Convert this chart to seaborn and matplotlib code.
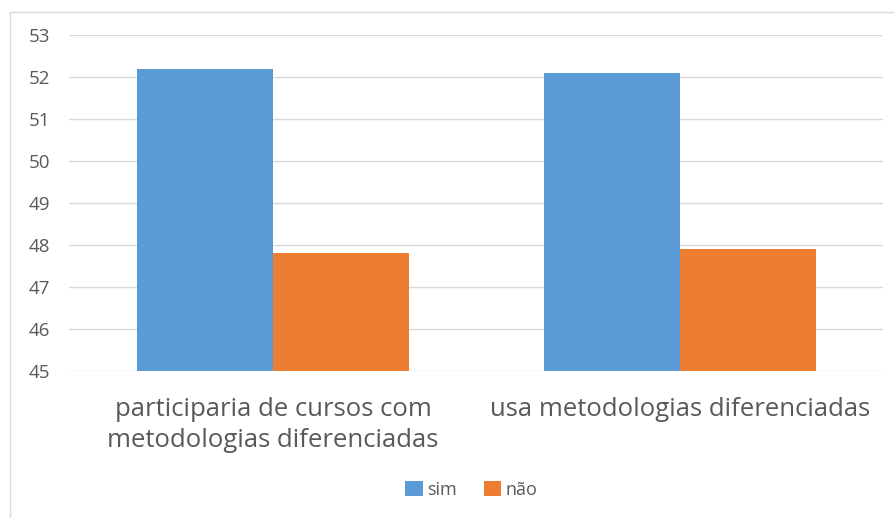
import pandas as pd
import seaborn as sns
from matplotlib import pyplot as plt
from matplotlib.lines import Line2D

# Chart values
categories = ['participaria de cursos com\nmetodologias diferenciadas', 'usa metodologias diferenciadas']
series_names = ['sim', 'não']
sim_values = [52.2, 52.1]
nao_values = [47.8, 47.9]
y_ticks = [45, 46, 47, 48, 49, 50, 51, 52, 53]

df = pd.DataFrame({
    'categoria': categories * 2,
    'resposta': [series_names[0]] * 2 + [series_names[1]] * 2,
    'valor': sim_values + nao_values,
})

sns.set_style('white')
plt.rcParams['font.family'] = ['Open Sans', 'DejaVu Sans']

fig = plt.figure(figsize=(8.95, 5.18), dpi=100)
ax = fig.add_axes([69.5 / 895, 1 - 371 / 518, 814 / 895, 336 / 518])

sns.barplot(data=df, x='categoria', y='valor', hue='resposta',
            palette=['#5B9BD5', '#ED7D31'], saturation=1, width=0.67, gap=0,
            linewidth=0, ax=ax, zorder=3)

ax.set_ylim(45, 53)
ax.set_yticks(y_ticks)
ax.set_xlim(-0.5, 1.5)
ax.yaxis.grid(True, color='#d9d9d9', linewidth=1, zorder=0)
ax.set_axisbelow(True)
for s in ax.spines.values():
    s.set_visible(False)
ax.set_xlabel('')
ax.set_ylabel('')
ax.tick_params(axis='y', length=0, pad=14, labelsize=13.5, labelcolor='#595959')
ax.tick_params(axis='x', length=0, pad=19, labelsize=18.5, labelcolor='#595959')
for lbl in ax.get_xticklabels():
    lbl.set_linespacing(1.3)

ax.legend(loc='center', bbox_to_anchor=(471.5 / 895, (518 - 490) / 518), bbox_transform=fig.transFigure,
          ncol=2, frameon=False, fontsize=13, labelcolor='#595959',
          handlelength=0.95, handleheight=0.9, handletextpad=0.25, columnspacing=1.5)

# light frame around the chart area
fig.add_artist(Line2D([10 / 895, 10 / 895], [0, 1 - 12 / 518], color='#d9d9d9', linewidth=1))
fig.add_artist(Line2D([10 / 895, 1], [1 - 12 / 518, 1 - 12 / 518], color='#d9d9d9', linewidth=1))

plt.savefig('out.png', dpi=100)
plt.close()
